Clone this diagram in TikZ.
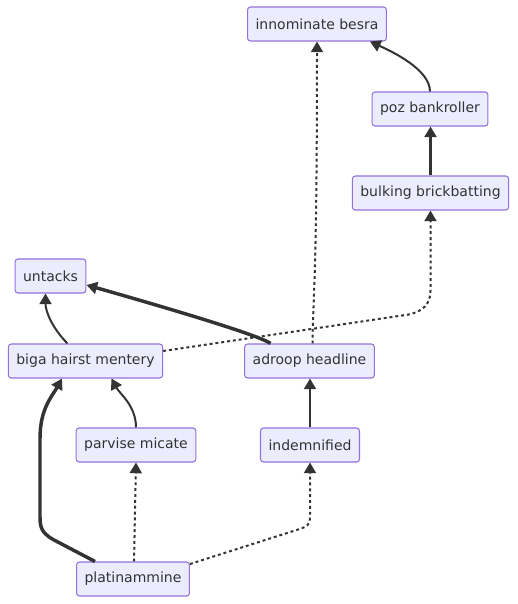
\documentclass[tikz,border=0pt]{standalone}
\usepackage{fontspec}
\setmainfont{DejaVu Sans}
\usetikzlibrary{arrows.meta,positioning,calc}
\definecolor{boxfill}{HTML}{ECECFF}
\definecolor{boxline}{HTML}{9370DB}
\definecolor{ink}{HTML}{333333}
\tikzset{
  cell/.style={draw=boxline,fill=boxfill,line width=0.8pt,rounded corners=2.2pt,
    inner xsep=6pt,inner ysep=0pt,minimum height=25.5pt,text=ink,
    font=\fontsize{10.5}{12}\selectfont},
  link/.style={draw=ink,line width=1.5pt,-{Triangle[length=8pt,width=9pt]}},
  heavy/.style={link,line width=2.6pt},
  dotlink/.style={link,dash pattern=on 2.2pt off 2.2pt},
}

\begin{document}
\begin{tikzpicture}[x=0.75pt,y=-0.75pt]
  \useasboundingbox (0,0) rectangle (518,604);
  \node[cell] (innom) at (317,24) {innominate besra};
  \node[cell] (pozb) at (430,109) {poz bankroller};
  \node[cell] (bulk) at (430.5,193) {bulking brickbatting};
  \node[cell] (untacks) at (50.5,276) {untacks};
  \node[cell] (biga) at (85.5,361) {biga hairst mentery};
  \node[cell] (adroop) at (309.5,361) {adroop headline};
  \node[cell] (parvise) at (136,445) {parvise micate};
  \node[cell] (indem) at (310,445) {indemnified};
  \node[cell] (platin) at (133,579) {platinammine};
  % top part
  \draw[link] (pozb.north) .. controls +(0,-22) and +(22,10) .. ($(innom.south)+(53,0)$);
  \draw[heavy] (bulk.north) -- (bulk.north |- pozb.south);
  \draw[dotlink] ($(adroop.north)+(3,0)$) .. controls +(0,-40) and +(0,250) .. (innom.south);
  % middle
  \draw[heavy] ($(adroop.north)+(-39,0)$) .. controls +(-12,-9) and +(60,17) .. ($(untacks.east)+(0,9)$);
  \draw[link] ($(biga.north)+(-18,0)$) .. controls +(-15,-15) and +(0,18) .. ($(untacks.south)+(-5,0)$);
  \draw[dotlink] ($(biga.east)+(0,-10)$) -- ($(bulk.south)+(-22,104)$)
    .. controls +(14,-3) and +(0,14) .. ($(bulk.south)+(0,80)$) -- (bulk.south);
  \draw[link] (indem.north) -- (indem.north |- adroop.south);
  % bottom
  \draw[link] (parvise.north) .. controls +(0,-22) and +(8,15) .. ($(biga.south)+(26,0)$);
  \draw[heavy] ($(platin.north)+(-38,0)$) -- ($(platin.north)+(-80,-22)$)
    .. controls +(-12,-7) and +(0,10) .. ($(platin.north)+(-93,-45)$)
    -- ($(biga.south)+(-45.5,60)$)
    .. controls +(0,-30) and +(-10,18) .. ($(biga.south)+(-23.5,0)$);
  \draw[dotlink] ($(platin.north)+(1,0)$) -- (parvise.south);
  \draw[dotlink] ($(platin.east)+(0,-15)$) -- ($(indem.south)+(-12,67)$)
    .. controls +(9,-3) and +(0,9) .. ($(indem.south)+(0,54)$) -- (indem.south);
\end{tikzpicture}
\end{document}
